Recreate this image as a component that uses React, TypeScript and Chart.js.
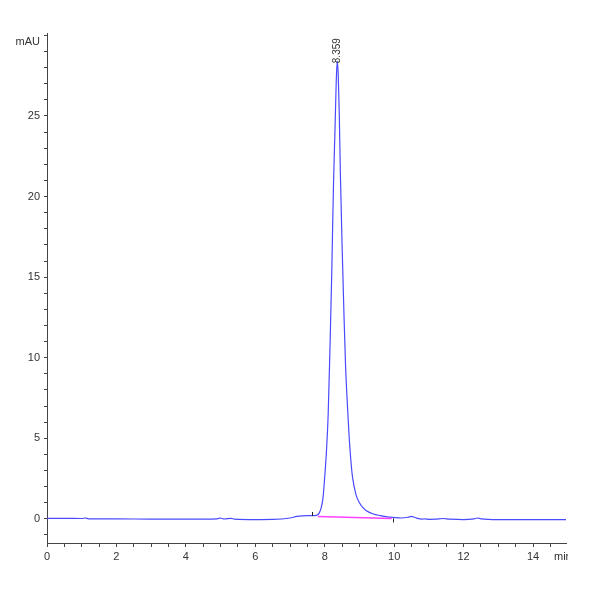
import React, { useEffect, useRef } from "react";
import { Chart, registerables } from "chart.js";

Chart.register(...registerables);

// Retention time (min) and absorbance (mAU)
const times = [
  0, 0.5, 1.0, 1.1, 1.2, 2, 3, 4, 4.9, 5.0, 5.1, 5.3, 5.4, 6, 6.5, 7.0, 7.2, 7.5, 7.7,
  7.8, 7.85, 7.9, 7.95, 8.0, 8.05, 8.1, 8.15, 8.2, 8.25, 8.3, 8.33, 8.36, 8.39, 8.42,
  8.45, 8.5, 8.55, 8.6, 8.65, 8.7, 8.75, 8.8, 8.9, 9.0, 9.1, 9.2, 9.4, 9.6, 9.8, 10.0,
  10.2, 10.4, 10.5, 10.6, 10.8, 10.9, 11.0, 11.2, 11.4, 11.6, 12, 12.3, 12.4, 12.5, 13,
  14, 14.95,
];
const absorbance = [
  0.03, 0.03, 0.02, 0.05, 0.0, 0.0, -0.02, -0.02, 0.0, 0.05, -0.01, 0.03, -0.02, -0.05,
  -0.04, 0.05, 0.15, 0.2, 0.2, 0.25, 0.4, 0.7, 1.3, 2.6, 4.2, 6.5, 10.5, 15, 20.5, 24.5,
  27, 28.4, 27.5, 25, 21.5, 17, 13, 9.5, 7.2, 5.2, 3.7, 2.6, 1.5, 1.0, 0.7, 0.5, 0.3,
  0.2, 0.12, 0.08, 0.05, 0.1, 0.15, 0.08, -0.02, 0.0, -0.03, -0.02, 0.02, -0.02, -0.05,
  0.0, 0.05, 0.0, -0.05, -0.05, -0.05,
];

// Integration baseline
const baselineTimes = [7.8, 9.93];
const baselineValues = [0.14, 0.02];

// Integration event markers
const eventTimes = [7.63, 9.96];
const eventLevels = [0.3, -0.1];

// Peak annotation
const peakTime = 8.36;
const peakHeight = 28.4;
const peakLabel = "8.359";

const xMin = 0;
const xMax = 14.95;
const yMin = -1.5;
const yMax = 30.15;
const yUnit = "mAU";
const xUnit = "min";

const FONT = "'Liberation Sans Narrow', 'Liberation Sans', Arial, sans-serif";
const AXIS = "#444";
const TEXT = "#333";

export default function App() {
  const ref = useRef<HTMLCanvasElement | null>(null);

  useEffect(() => {
    if (!ref.current) return;
    const annot = {
      id: "annot",
      afterDatasetsDraw(chart: any) {
        const { ctx, chartArea, scales } = chart;
        const xs = scales.x;
        const ys = scales.y;
        ctx.save();
        // event markers
        ctx.strokeStyle = "#222";
        ctx.lineWidth = 1;
        eventTimes.forEach((t, i) => {
          const px = Math.round(xs.getPixelForValue(t)) + 0.5;
          const py = ys.getPixelForValue(eventLevels[i]);
          ctx.beginPath();
          ctx.moveTo(px, py - 2);
          ctx.lineTo(px, py + 2);
          ctx.stroke();
        });
        // peak label
        ctx.fillStyle = TEXT;
        ctx.font = `10px ${FONT}`;
        ctx.translate(xs.getPixelForValue(peakTime) + 0.5, ys.getPixelForValue(peakHeight) + 2);
        ctx.rotate(-Math.PI / 2);
        ctx.textAlign = "left";
        ctx.textBaseline = "middle";
        ctx.fillText(peakLabel, 0, 0);
        ctx.restore();

        ctx.save();
        ctx.fillStyle = TEXT;
        ctx.font = `11px ${FONT}`;
        ctx.textAlign = "right";
        ctx.textBaseline = "middle";
        ctx.fillText(yUnit, chartArea.left - 7, chartArea.top + 9);
        ctx.beginPath();
        ctx.rect(0, 0, chartArea.right + 2, chart.height);
        ctx.clip();
        ctx.textAlign = "left";
        ctx.fillText(xUnit, chartArea.right - 12, chartArea.bottom + 14);
        ctx.restore();
      },
    };

    const chart = new Chart(ref.current, {
      type: "line",
      data: {
        datasets: [
          {
            data: baselineTimes.map((t, i) => ({ x: t, y: baselineValues[i] })),
            borderColor: "#ff40ff",
            borderWidth: 1.5,
            pointRadius: 0,
            tension: 0,
          },
          {
            data: times.map((t, i) => ({ x: t, y: absorbance[i] })),
            borderColor: "#4a4aff",
            borderWidth: 1.2,
            pointRadius: 0,
            tension: 0.35,
            cubicInterpolationMode: "monotone",
          },
        ],
      },
      options: {
        animation: false,
        responsive: true,
        maintainAspectRatio: false,
        layout: { padding: { top: 33, right: 34, left: 0, bottom: 0 } },
        plugins: { legend: { display: false }, tooltip: { enabled: false } },
        scales: {
          x: {
            type: "linear",
            min: xMin,
            max: xMax,
            afterFit: (s: any) => {
              s.height = 57;
            },
            border: { display: true, color: AXIS, width: 1 },
            grid: { drawOnChartArea: false, drawTicks: true, tickLength: 4, color: AXIS },
            ticks: {
              stepSize: 0.5,
              includeBounds: false,
              autoSkip: false,
              maxRotation: 0,
              padding: 3,
              color: TEXT,
              font: { family: FONT, size: 11 },
              callback: (v: any) => (Math.abs(v % 2) < 1e-9 ? String(v) : ""),
            },
          },
          y: {
            type: "linear",
            min: yMin,
            max: yMax,
            afterFit: (s: any) => {
              s.width = 47;
            },
            border: { display: true, color: AXIS, width: 1 },
            grid: { drawOnChartArea: false, drawTicks: true, tickLength: 3, color: AXIS },
            ticks: {
              stepSize: 1,
              includeBounds: false,
              autoSkip: false,
              padding: 4,
              color: TEXT,
              font: { family: FONT, size: 11 },
              callback: (v: any) => (Math.abs(v % 5) < 1e-9 && v < 30 ? String(v) : ""),
            },
          },
        },
      },
      plugins: [annot],
    });
    return () => chart.destroy();
  }, []);

  return (
    <div style={{ position: "fixed", left: 0, top: 0, width: 600, height: 600, background: "#fff" }}>
      <canvas ref={ref} />
    </div>
  );
}
